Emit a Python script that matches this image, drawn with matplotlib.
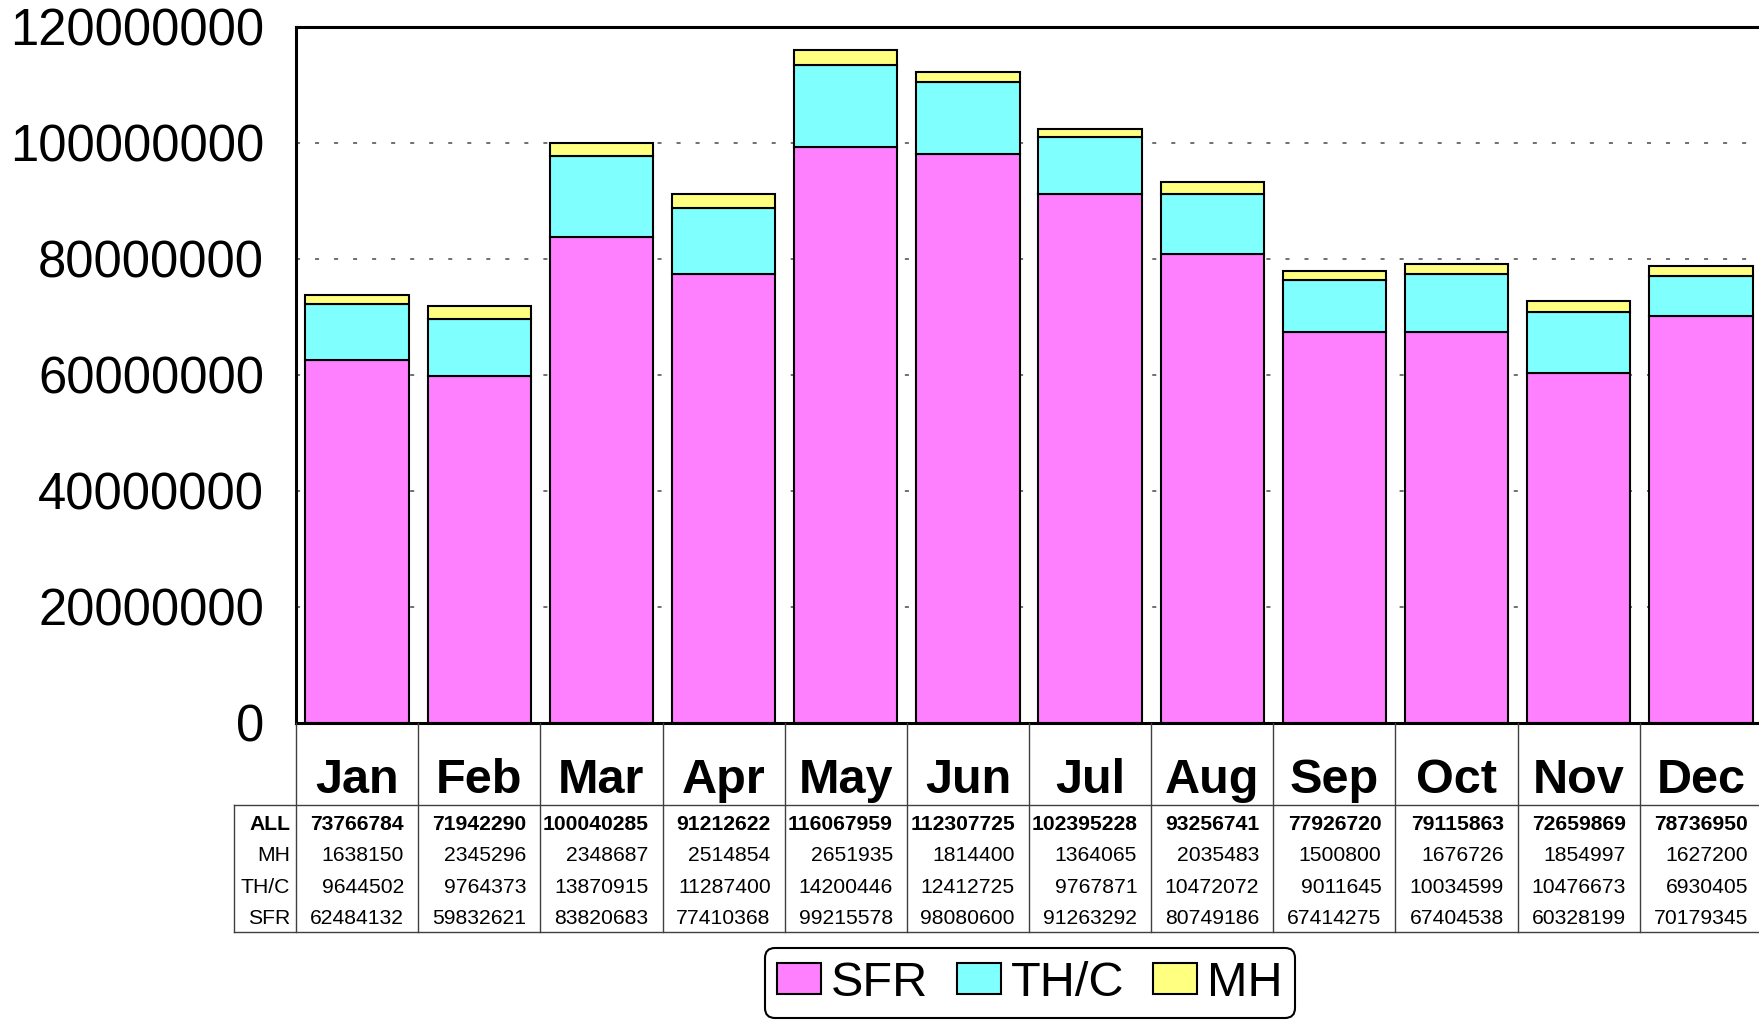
import matplotlib
matplotlib.use("Agg")
import matplotlib.pyplot as plt
from matplotlib.lines import Line2D

plt.rcParams['font.family'] = ['Liberation Sans', 'DejaVu Sans']
plt.rcParams['lines.scale_dashes'] = False

months = ["Jan", "Feb", "Mar", "Apr", "May", "Jun", "Jul", "Aug", "Sep", "Oct", "Nov", "Dec"]
all_vals = [73766784, 71942290, 100040285, 91212622, 116067959, 112307725,
            102395228, 93256741, 77926720, 79115863, 72659869, 78736950]
mh = [1638150, 2345296, 2348687, 2514854, 2651935, 1814400,
      1364065, 2035483, 1500800, 1676726, 1854997, 1627200]
thc = [9644502, 9764373, 13870915, 11287400, 14200446, 12412725,
       9767871, 10472072, 9011645, 10034599, 10476673, 6930405]
sfr = [62484132, 59832621, 83820683, 77410368, 99215578, 98080600,
       91263292, 80749186, 67414275, 67404538, 60328199, 70179345]
row_labels = ["ALL", "MH", "TH/C", "SFR"]
yticks = [0, 20000000, 40000000, 60000000, 80000000, 100000000, 120000000]

W_PX, H_PX = 1759, 1024
fig = plt.figure(figsize=(W_PX / 100, H_PX / 100), dpi=100)

# layout in pixels
ax_left, ax_right, ax_top, ax_bot = 296, 1762, 27, 722.5
tab_bot = 932
L = ax_left / W_PX
Wd = (ax_right - ax_left) / W_PX
ax = fig.add_axes([L, 1 - ax_bot / H_PX, Wd, (ax_bot - ax_top) / H_PX])

x = list(range(len(months)))
bw = 0.845
c_sfr, c_thc, c_mh = '#FF80FF', '#80FFFF', '#FFFF80'
b1 = ax.bar(x, sfr, bw, color=c_sfr, edgecolor='black', linewidth=1.5, zorder=3, label='SFR')
b2 = ax.bar(x, thc, bw, bottom=sfr, color=c_thc, edgecolor='black', linewidth=1.5, zorder=3, label='TH/C')
bottom2 = [a + b for a, b in zip(sfr, thc)]
b3 = ax.bar(x, mh, bw, bottom=bottom2, color=c_mh, edgecolor='black', linewidth=1.5, zorder=3, label='MH')

ax.set_xlim(-0.5, len(months) - 0.5)
ax.set_ylim(0, 120000000)
ax.set_yticks(yticks)
ax.set_yticklabels([str(v) for v in yticks], fontsize=36.5)
ax.tick_params(axis='y', length=0, pad=23)
ax.set_xticks([])
ax.yaxis.grid(True, color='#707070', linewidth=1.4, linestyle=(0, (2.9, 10.8)), zorder=0)
ax.set_axisbelow(True)
for s in ['left', 'top', 'bottom', 'right']:
    ax.spines[s].set_linewidth(2.2)
    ax.spines[s].set_zorder(5)

# table axes
ax_t = fig.add_axes([L, 1 - tab_bot / H_PX, Wd, (tab_bot - ax_bot) / H_PX])
ax_t.set_xlim(-0.5, len(months) - 0.5)
ax_t.set_ylim(tab_bot, ax_bot)
ax_t.axis('off')

colw = (ax_right - ax_left) / len(months)
lab_left = -0.5 - (ax_left - 234) / colw
lc = '#404040'
lw_t = 1.0
for i in range(len(months) + 1):
    ax_t.add_line(Line2D([i - 0.5, i - 0.5], [ax_bot, tab_bot], color=lc, lw=lw_t, clip_on=False))
ax_t.add_line(Line2D([lab_left, lab_left], [805, tab_bot], color=lc, lw=lw_t, clip_on=False))
for yy in [805, tab_bot]:
    ax_t.add_line(Line2D([lab_left, len(months)], [yy, yy], color=lc, lw=lw_t, clip_on=False))

for i, m in enumerate(months):
    ax_t.text(i, 793, m, ha='center', va='baseline', fontsize=35, fontweight='bold')

row_y = [830, 861, 893, 924]
rows = [all_vals, mh, thc, sfr]
num_off = 0.5 - 14 / colw
for r, (lab, vals, yy) in enumerate(zip(row_labels, rows, row_y)):
    fw = 'bold' if r == 0 else 'normal'
    ax_t.text(-0.5 - 6 / colw, yy, lab, ha='right', va='baseline', fontsize=15.2, fontweight=fw, clip_on=False)
    for i, v in enumerate(vals):
        ax_t.text(i + num_off, yy, str(v), ha='right', va='baseline', fontsize=15.2, fontweight=fw)

leg = fig.legend(handles=[b1, b2, b3], labels=['SFR', 'TH/C', 'MH'], loc='center',
                 bbox_to_anchor=(1030 / W_PX, 1 - 983 / H_PX), ncol=3, fontsize=35,
                 frameon=True, fancybox=True, framealpha=1, edgecolor='black',
                 handlelength=0.9, handleheight=0.62, handletextpad=0.2,
                 columnspacing=0.6, borderpad=0.25)
leg.get_frame().set_linewidth(1.5)

fig.savefig('out.png', dpi=100)
